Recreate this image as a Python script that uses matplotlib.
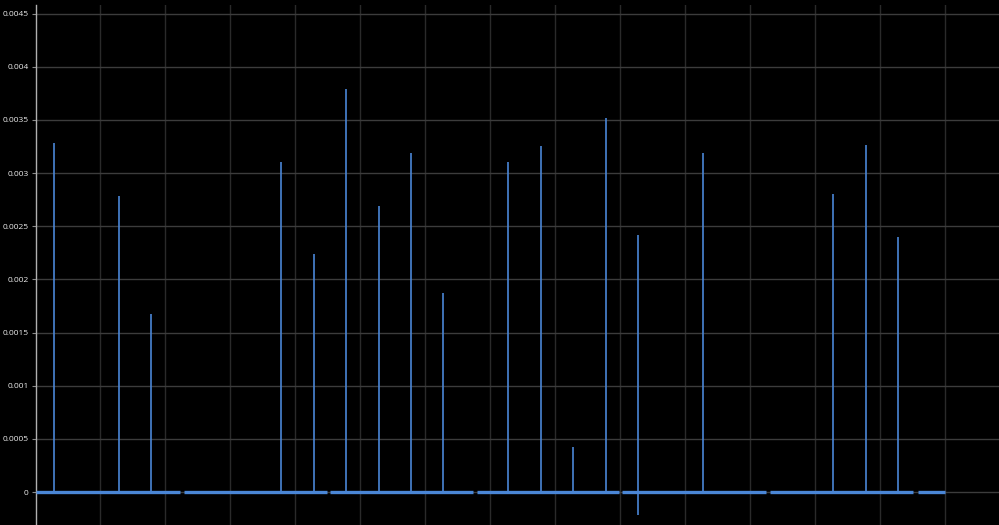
import matplotlib
matplotlib.use('Agg')
import matplotlib.pyplot as plt
from matplotlib.ticker import FixedLocator, FixedFormatter

# spike positions (x units, grid every 1.0) and peak values
spike_x = [0.28, 1.28, 1.78, 3.78, 4.28, 4.78, 5.28, 5.78, 6.28,
           7.28, 7.78, 8.28, 8.78, 9.28, 10.28, 12.28, 12.78, 13.28]
spike_y = [0.00328, 0.00278, 0.00167, 0.00310, 0.00224, 0.00379, 0.00269,
           0.00319, 0.00187, 0.00310, 0.00325, 0.00042, 0.00352, 0.00242,
           0.00319, 0.00280, 0.00326, 0.00240]
neg_spike_x = [9.28]
neg_spike_y = [-0.00022]

# baseline runs (start, end) separated by short gaps
seg_start = [0.0, 2.28, 4.54, 6.80, 9.03, 11.31, 13.58]
seg_end = [2.23, 4.49, 6.74, 8.98, 11.25, 13.51, 14.0]

yticks = [0, 0.0005, 0.001, 0.0015, 0.002, 0.0025, 0.003, 0.0035, 0.004, 0.0045]
ytick_labels = ['0', '0.0005', '0.001', '0.0015', '0.002', '0.0025',
                '0.003', '0.0035', '0.004', '0.0045']

line_col = '#4a86d6'

fig = plt.figure(figsize=[9.99, 5.25], dpi=100, facecolor='black')
ax = fig.add_axes([35.5 / 999, 0, 1 - 35.5 / 999, 1 - 5 / 525])
ax.set_facecolor('black')

ax.vlines(spike_x, 0, spike_y, color=line_col, linewidth=1.2, zorder=3)
ax.vlines(neg_spike_x, neg_spike_y, 0, color=line_col, linewidth=1.2, zorder=3)
ax.hlines([0] * len(seg_start), seg_start, seg_end, color=line_col,
          linewidth=2.4, zorder=3)

ax.set_xlim(0, 964 / 65)
ax.set_ylim(-0.00031, 0.00458)

ax.xaxis.set_major_locator(FixedLocator(list(range(1, 15))))
ax.yaxis.set_major_locator(FixedLocator(yticks))
ax.yaxis.set_major_formatter(FixedFormatter(ytick_labels))
ax.tick_params(axis='x', length=0, labelbottom=False)
ax.tick_params(axis='y', length=3, width=0.8, color='#888888',
               labelcolor='#ececec', labelsize=6, pad=2)
for lbl in ax.get_yticklabels():
    lbl.set_family('Open Sans')

ax.grid(axis='x', color='#2a2a2a', linewidth=1)
ax.grid(axis='y', color='#3c3c3c', linewidth=1)
ax.set_axisbelow(True)

for side in ['top', 'right', 'bottom']:
    ax.spines[side].set_visible(False)
ax.spines['left'].set_color('#b0b0b0')
ax.spines['left'].set_linewidth(1)

fig.savefig('out.png', dpi=100, facecolor='black')
